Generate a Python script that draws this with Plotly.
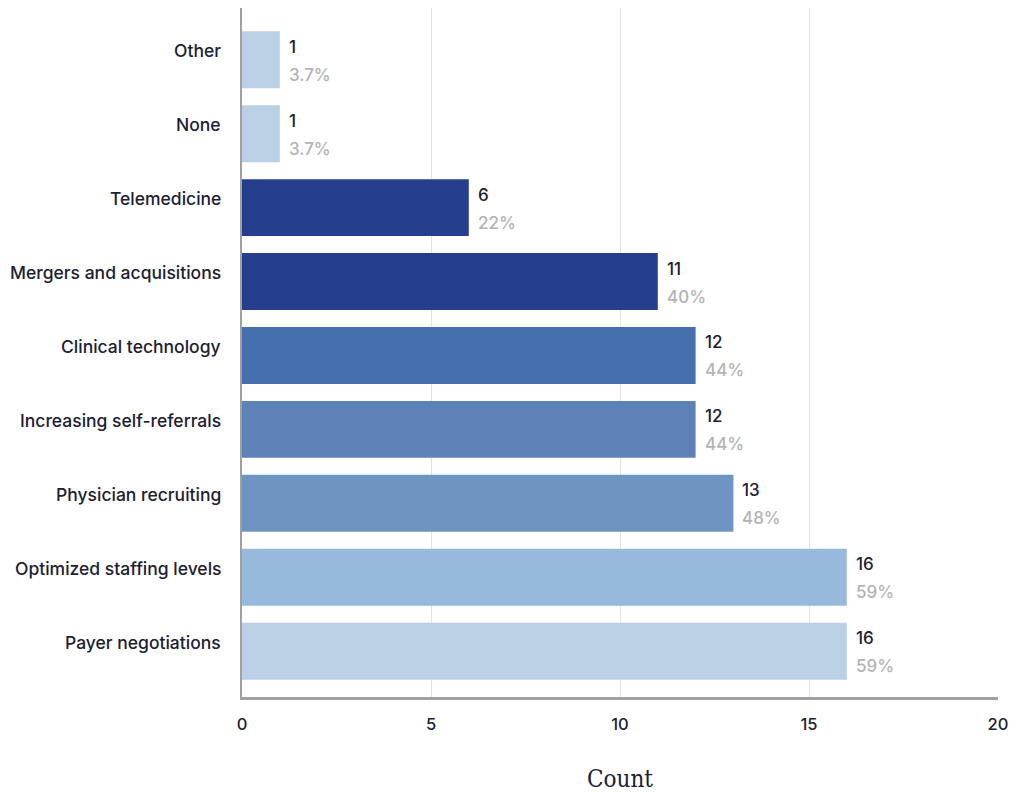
import plotly.graph_objects as go

# Survey responses: strategies named by respondents (n = 27)
categories = [
    "Payer negotiations",
    "Optimized staffing levels",
    "Physician recruiting",
    "Increasing self-referrals",
    "Clinical technology",
    "Mergers and acquisitions",
    "Telemedicine",
    "None",
    "Other",
]
counts = [16, 16, 13, 12, 12, 11, 6, 1, 1]
pct_labels = ["59%", "59%", "48%", "44%", "44%", "40%", "22%", "3.7%", "3.7%"]
bar_colors = [
    "#b9d0e5", "#97badc", "#6e95c1", "#5c82b8", "#456fad",
    "#253f8e", "#253f8e", "#b9d0e5", "#b9d0e5",
]
x_ticks = [0, 5, 10, 15, 20]

TEXT_DARK = "#1b2033"

fig = go.Figure(
    go.Bar(
        x=counts,
        y=categories,
        orientation="h",
        marker=dict(color=bar_colors, line=dict(width=0)),
        width=0.77,
        hoverinfo="skip",
    )
)

annotations = []
for cat, val, pct in zip(categories, counts, pct_labels):
    # category name, right-aligned left of the axis, sitting slightly high
    annotations.append(dict(
        x=0, y=cat, xref="paper", yref="y", text=cat,
        xanchor="right", yanchor="middle", xshift=-19, yshift=9,
        showarrow=False,
        font=dict(family="Inter", size=17.5, color=TEXT_DARK, weight=500),
    ))
    # count and share labels beside the bar end
    annotations.append(dict(
        x=val, y=cat, xref="x", yref="y", text=str(val),
        xanchor="left", yanchor="middle", xshift=7, yshift=13,
        showarrow=False,
        font=dict(family="Inter", size=17, color=TEXT_DARK, weight=500),
    ))
    annotations.append(dict(
        x=val, y=cat, xref="x", yref="y", text=pct,
        xanchor="left", yanchor="middle", xshift=7, yshift=-15,
        showarrow=False,
        font=dict(family="Inter", size=17, color="#b3b3b3", weight=500),
    ))

fig.update_layout(
    width=1011,
    height=793,
    margin=dict(l=242, r=13, t=8, b=96),
    paper_bgcolor="white",
    plot_bgcolor="white",
    showlegend=False,
    annotations=annotations,
    xaxis=dict(
        range=[0, 20],
        tickvals=x_ticks,
        showgrid=True,
        gridcolor="#e3e3e3",
        gridwidth=1,
        zeroline=False,
        showline=True,
        linecolor="#a0a0a0",
        linewidth=3,
        ticks="",
        ticklen=0,
        ticklabelstandoff=10,
        automargin=False,
        tickfont=dict(family="Inter", size=16.5, color=TEXT_DARK, weight=500),
        title=dict(
            text="Count",
            font=dict(family="DejaVu Serif Condensed", size=24, color=TEXT_DARK),
            standoff=42,
        ),
        fixedrange=True,
    ),
    yaxis=dict(
        range=[-0.62, 8.70],
        showgrid=False,
        zeroline=False,
        showline=True,
        linecolor="#a0a0a0",
        linewidth=2,
        ticks="",
        showticklabels=False,
        automargin=False,
        fixedrange=True,
    ),
)

fig.write_html("out.html")
